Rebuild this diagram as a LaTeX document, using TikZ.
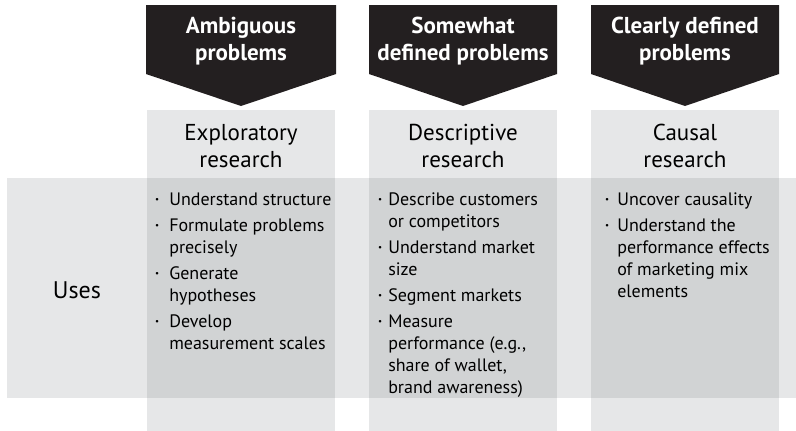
\documentclass[tikz,border=0pt]{standalone}
\usepackage{fontspec}
\setmainfont{PT Sans}
\usetikzlibrary{positioning, calc}

\definecolor{panelgray}{HTML}{E6E7E8}
\definecolor{overlapgray}{HTML}{D1D3D4}
\definecolor{arrowblack}{HTML}{231F20}
\newcommand{\bul}{\raisebox{0.2em}{\fontsize{9}{9}\selectfont\textbullet}}

\begin{document}
\begin{tikzpicture}[x=1pt, y=-1pt,
    problem/.style={text=white, font=\fontsize{23}{27}\selectfont\bfseries, align=center},
    kind/.style={font=\fontsize{23}{27}\selectfont, align=center},
    uselist/.style={font=\fontsize{18}{22}\selectfont, anchor=north west, inner sep=0pt}]
    \useasboundingbox (0,0) rectangle (796,431);

    % columns
    \fill[panelgray] (147,110) rectangle (335,431);
    \fill[panelgray] (369,110) rectangle (557,431);
    \fill[panelgray] (591,110) rectangle (779,431);

    % uses band and where it crosses the columns
    \fill[panelgray]   (7,178)   rectangle (796,398);
    \fill[overlapgray] (147,178) rectangle (335,398);
    \fill[overlapgray] (369,178) rectangle (557,398);
    \fill[overlapgray] (591,178) rectangle (779,398);

    % arrows
    \fill[arrowblack] (146,5) -- (336,5) -- (336,74) -- (241,106) -- (146,74) -- cycle;
    \fill[arrowblack] (369,5) -- (557,5) -- (557,74) -- (463,106) -- (369,74) -- cycle;
    \fill[arrowblack] (591,5) -- (779,5) -- (779,74) -- (685,106) -- (591,74) -- cycle;
    \node[problem] (ambig) at (241,41) {Ambiguous\\problems};
    \node[problem] (somewhat) at (463,41) {Somewhat\\defined problems};
    \node[problem] (clear) at (685,41) {Clearly defined\\problems};

    \node[kind] (explor) at (241,146) {Exploratory\\research};
    \node[kind] (descr) at (463,146) {Descriptive\\research};
    \node[kind] (causal) at (685,146) {Causal\\research};

    \node[kind, font=\fontsize{24}{28}\selectfont] (uses) at (77,290) {Uses};

    \node[uselist] (explor uses) at (155,190) {\begin{tabular}{@{}l@{\hspace{10pt}}l@{}}
        \bul & Understand structure\\[4pt]
        \bul & Formulate problems\\ & precisely\\[4pt]
        \bul & Generate\\ & hypotheses\\[4pt]
        \bul & Develop\\ & measurement scales
    \end{tabular}};
    \node[uselist] (descr uses) at (378,190) {\begin{tabular}{@{}l@{\hspace{6pt}}l@{}}
        \bul & Describe customers\\ & or competitors\\[4pt]
        \bul & Understand market\\ & size\\[4pt]
        \bul & Segment markets\\[4pt]
        \bul & Measure\\ & performance (e.g.,\\ & share of wallet,\\ & brand awareness)
    \end{tabular}};
    \node[uselist] (causal uses) at (605,190) {\begin{tabular}{@{}l@{\hspace{8pt}}l@{}}
        \bul & Uncover causality\\[4pt]
        \bul & Understand the\\ & performance effects\\ & of marketing mix\\ & elements
    \end{tabular}};
\end{tikzpicture}
\end{document}
